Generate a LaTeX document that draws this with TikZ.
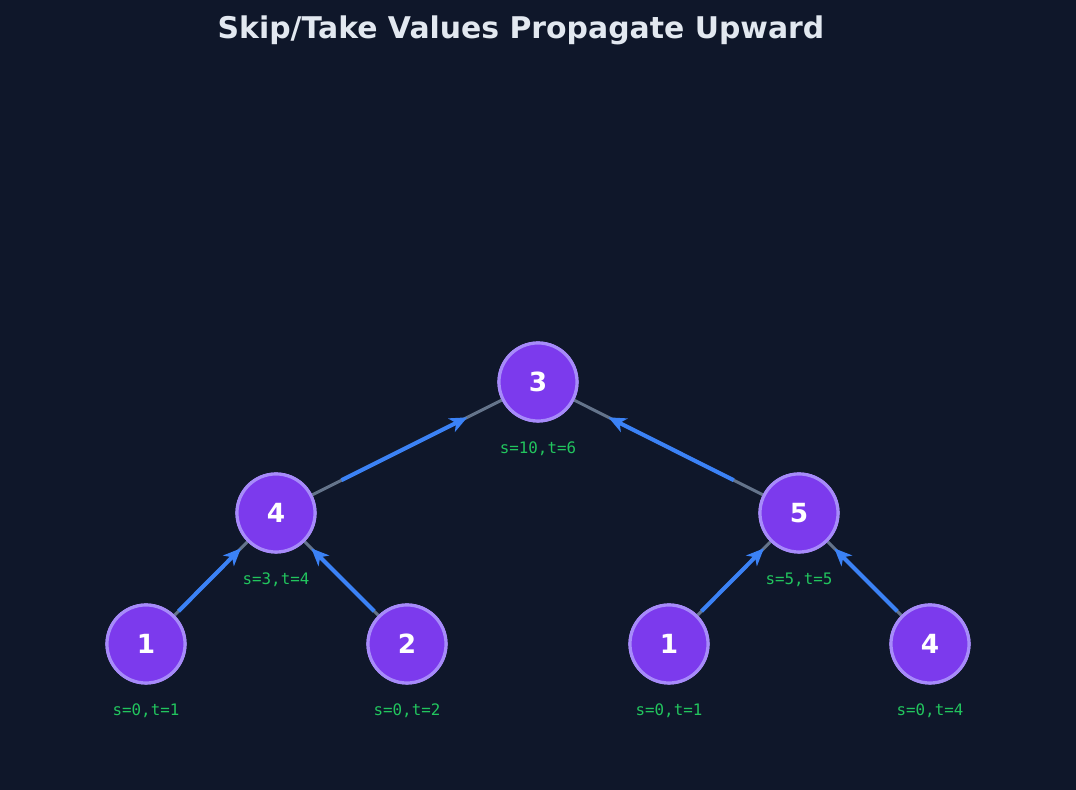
\documentclass[tikz,border=0pt]{standalone}
\usepackage{fontspec}
\setmainfont{DejaVu Sans}
\setmonofont{DejaVu Sans Mono}
\usetikzlibrary{calc}
\usetikzlibrary{arrows.meta}
\definecolor{bg}{HTML}{0F172A}
\definecolor{nodefill}{HTML}{7C3AED}
\definecolor{nodeedge}{HTML}{A78BFA}
\definecolor{edgegray}{HTML}{64748B}
\definecolor{flowblue}{HTML}{3B82F6}
\definecolor{labgreen}{HTML}{22C55E}
\definecolor{titlecol}{HTML}{E2E8F0}
\tikzset{
  tnode/.style={circle, minimum size=1.56cm, inner sep=0pt, fill=nodefill, draw=nodeedge, line width=1.8pt, text=white, font=\fontsize{15}{15}\selectfont\bfseries},
  sumlabel/.style={text=labgreen, font=\fontsize{9}{9}\selectfont\ttfamily},
  tree/.style={edgegray, line width=1.7pt},
  flow/.style={flowblue, line width=2.3pt, -{Stealth[length=3.5mm, width=3mm, inset=1mm]}}
}
\begin{document}
\begin{tikzpicture}
    \fill[bg] (0,0) rectangle (21.52,15.8);
    \useasboundingbox (0,0) rectangle (21.52,15.8);
    \node[text=titlecol, font=\fontsize{17}{17}\selectfont\bfseries] (title) at (10.42,15.2) {Skip/Take Values Propagate Upward};

    % Nodes
    \node[tnode] (root) at (10.76,8.16) {3};
    \node[tnode] (l) at (5.52,5.54) {4};
    \node[tnode] (r) at (15.98,5.54) {5};
    \node[tnode] (ll) at (2.92,2.92) {1};
    \node[tnode] (lr) at (8.14,2.92) {2};
    \node[tnode] (rl) at (13.38,2.92) {1};
    \node[tnode] (rr) at (18.60,2.92) {4};

    % Labels
    \foreach \n/\t in {root/{s=10,t=6}, l/{s=3,t=4}, r/{s=5,t=5}, ll/{s=0,t=1}, lr/{s=0,t=2}, rl/{s=0,t=1}, rr/{s=0,t=4}}
        \node[sumlabel] (\n-lab) at ($(\n)+(0,-1.34)$) {\t};

    % Edges
    \begin{scope}[on background layer/.try]
    \foreach \c/\p in {l/root, r/root, ll/l, lr/l, rl/r, rr/r}
        \draw[tree] (\c) -- (\p);
    \end{scope}
    \foreach \c/\p in {l/root, r/root, ll/l, lr/l, rl/r, rr/r}
        \draw[flow] ($(\c)!0.25!(\p)$) -- ($(\c)!0.73!(\p)$);

    % redraw nodes over edges
    \foreach \n/\v/\x/\y in {root/3/10.76/8.16, l/4/5.52/5.54, r/5/15.98/5.54, ll/1/2.92/2.92, lr/2/8.14/2.92, rl/1/13.38/2.92, rr/4/18.60/2.92}
        \node[tnode] (\n-top) at (\x,\y) {\v};
\end{tikzpicture}
\end{document}
